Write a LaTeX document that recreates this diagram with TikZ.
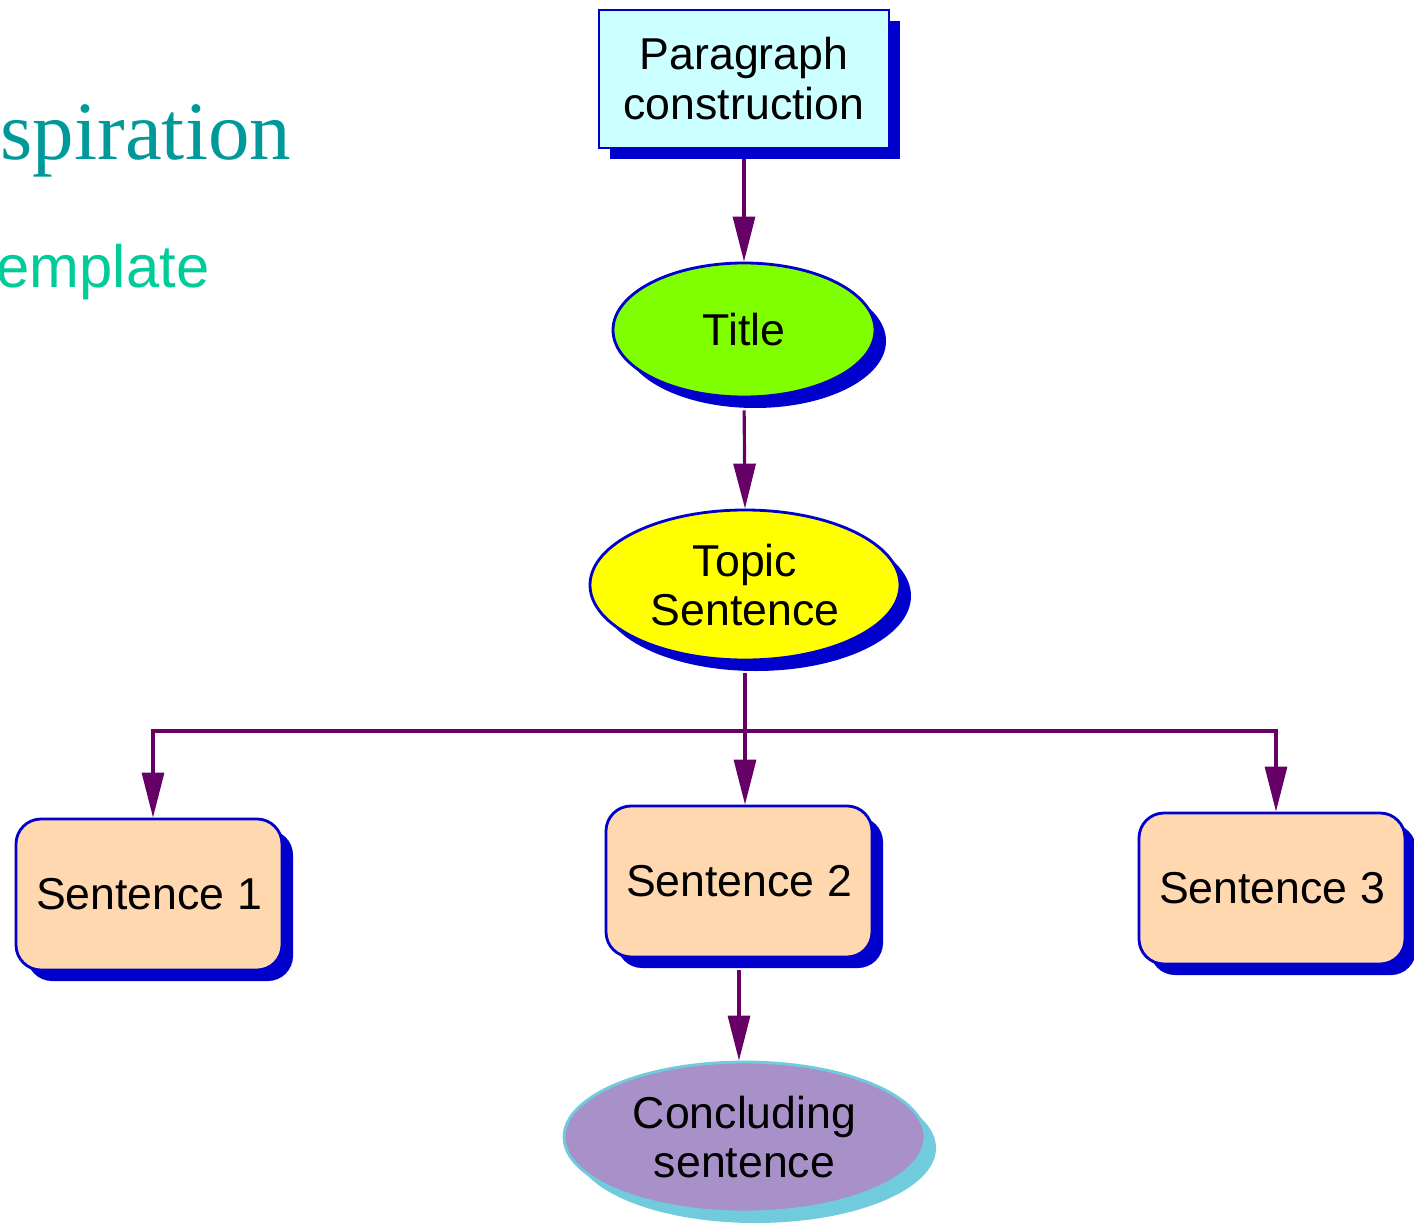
\documentclass[tikz,border=0pt]{standalone}
\usepackage{fontspec}
\setmainfont{Liberation Sans}
\newfontfamily\headserif{Liberation Serif}
\usetikzlibrary{shapes.geometric, shadows, arrows.meta}

\definecolor{edgeblue}{HTML}{0000CC}
\definecolor{paracyan}{HTML}{CCFFFF}
\definecolor{titlegreen}{HTML}{80FF00}
\definecolor{topicyellow}{HTML}{FFFF00}
\definecolor{peach}{HTML}{FFD8B0}
\definecolor{conclpurple}{HTML}{A890C8}
\definecolor{conclcyan}{HTML}{70CCDD}
\definecolor{linkpurple}{HTML}{660066}
\definecolor{inspteal}{HTML}{009999}
\definecolor{templgreen}{HTML}{00CC99}

\begin{document}
\begin{tikzpicture}[
        font=\fontsize{12.7}{14.2}\selectfont,
        box/.style={draw=#1, line width=0.8pt, align=center,
            drop shadow={shadow xshift=0.11cm, shadow yshift=-0.11cm, fill=#1, opacity=1}},
        box/.default=edgeblue,
        oval/.style={box=#1, ellipse, inner sep=0pt},
        oval/.default=edgeblue,
        sentbox/.style={box, rounded corners=0.25cm, fill=peach, minimum width=2.66cm, minimum height=1.51cm},
        wire/.style={draw=linkpurple, line width=0.9pt},
        link/.style={wire, -{Triangle[length=0.45cm, width=0.22cm]}}
    ]
        \useasboundingbox (0,0) rectangle (14.14,-12.24);

        % Heading text
        \node[anchor=base west, inner sep=0pt, text=inspteal, font=\headserif\fontsize{23.6}{24}\selectfont] (insp) at (0,-1.60) {spiration};
        \node[anchor=base west, inner sep=0pt, text=templgreen, font=\fontsize{17}{18}\selectfont] (templ) at (-0.04,-2.88) {emplate};

        % Top of the chart
        \node[box, fill=paracyan, minimum width=2.9cm, minimum height=1.38cm] (para) at (7.44,-0.79) {Paragraph\\construction};
        \node[oval, fill=titlegreen, minimum width=2.62cm, minimum height=1.34cm] (title) at (7.44,-3.30) {Title};
        \node[oval, fill=topicyellow, minimum width=3.10cm, minimum height=1.50cm] (topic) at (7.45,-5.85) {Topic\\Sentence};

        % Sentences
        \foreach \i/\x/\y in {1/1.49/-8.945, 2/7.39/-8.815, 3/12.72/-8.885} {
            \node[sentbox] (s\i) at (\x,\y) {Sentence \i};
        }

        % Conclusion
        \node[oval=conclcyan, fill=conclpurple, minimum width=3.61cm, minimum height=1.50cm] (concl) at (7.445,-11.37) {Concluding\\sentence};

        % Arrows
        \draw[link, shorten <=0.1cm] (para.south) -- (title.north);
        \draw[link, shorten <=0.12cm] (title.south) -- (topic.north);
        \coordinate (split) at (7.45,-7.31);
        \draw[wire, shorten <=0.12cm] (topic.south) -- (split);
        \foreach \i in {1, 3} {
            \draw[link] (split) -| ([xshift=0.04cm]s\i.north);
        }
        \draw[link] (split) -- (split |- s2.north);
        \draw[link, shorten <=0.12cm] (s2.south) -- (s2.south |- concl.north);
    \end{tikzpicture}
\end{document}
